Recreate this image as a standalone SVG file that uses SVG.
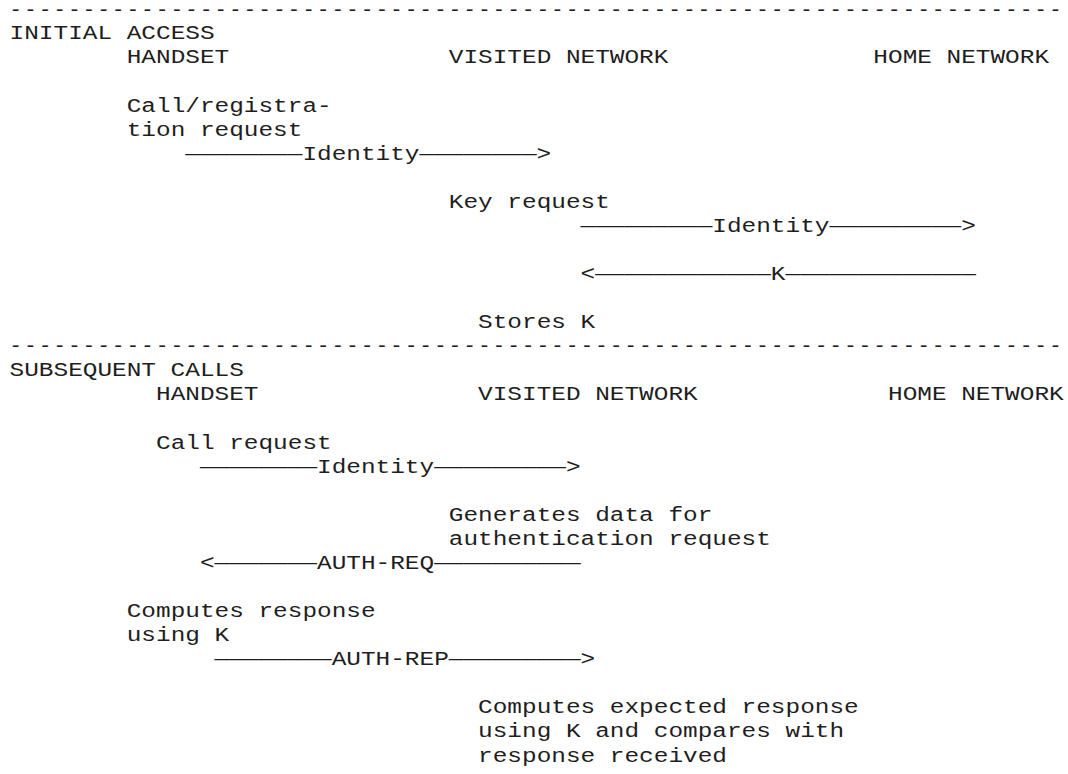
<svg xmlns="http://www.w3.org/2000/svg" width="1068" height="774" viewBox="0 0 1068 774">
<style>
text { font-family: "Liberation Mono", "Courier New", monospace; font-size: 20.5px; fill: #1e1e1e; white-space: pre; }
.rule { letter-spacing: 2.34px; }
</style>
<rect width="1068" height="774" fill="#ffffff"/>
<g id="section-initial-access">
  <text id="rule-1" class="rule" x="9.6" y="15.8">------------------------------------------------------------------------</text>
  <text id="title-initial" x="9.6" y="39.4" textLength="204.96" lengthAdjust="spacingAndGlyphs">INITIAL ACCESS</text>
</g>
<g id="lane-headers-1">
  <text x="126.72" y="63.4" textLength="102.48" lengthAdjust="spacingAndGlyphs">HANDSET</text>
  <text x="448.8" y="63.4" textLength="219.6" lengthAdjust="spacingAndGlyphs">VISITED NETWORK</text>
  <text x="873.36" y="63.4" textLength="175.68" lengthAdjust="spacingAndGlyphs">HOME NETWORK</text>
</g>
<g id="note-call-registration">
  <text x="126.72" y="111.6" textLength="204.96" lengthAdjust="spacingAndGlyphs">Call/registra-</text>
  <text x="126.72" y="135.6" textLength="175.68" lengthAdjust="spacingAndGlyphs">tion request</text>
</g>
<g id="note-key-request">
  <text x="448.8" y="207.9" textLength="161.04" lengthAdjust="spacingAndGlyphs">Key request</text>
</g>
<g id="note-stores-k">
  <text x="478.08" y="328.2" textLength="117.12" lengthAdjust="spacingAndGlyphs">Stores K</text>
</g>
<g id="section-subsequent-calls">
  <text id="rule-2" class="rule" x="9.6" y="352.3">------------------------------------------------------------------------</text>
  <text id="title-subsequent" x="9.6" y="376.4" textLength="234.24" lengthAdjust="spacingAndGlyphs">SUBSEQUENT CALLS</text>
</g>
<g id="lane-headers-2">
  <text x="156.0" y="400.4" textLength="102.48" lengthAdjust="spacingAndGlyphs">HANDSET</text>
  <text x="478.08" y="400.4" textLength="219.6" lengthAdjust="spacingAndGlyphs">VISITED NETWORK</text>
  <text x="888.0" y="400.4" textLength="175.68" lengthAdjust="spacingAndGlyphs">HOME NETWORK</text>
</g>
<g id="note-call-request">
  <text x="156.0" y="448.6" textLength="175.68" lengthAdjust="spacingAndGlyphs">Call request</text>
</g>
<g id="note-generates-data">
  <text x="448.8" y="520.8" textLength="263.52" lengthAdjust="spacingAndGlyphs">Generates data for</text>
  <text x="448.8" y="544.8" textLength="322.08" lengthAdjust="spacingAndGlyphs">authentication request</text>
</g>
<g id="note-computes-response">
  <text x="126.72" y="617.0" textLength="248.88" lengthAdjust="spacingAndGlyphs">Computes response</text>
  <text x="126.72" y="641.1" textLength="102.48" lengthAdjust="spacingAndGlyphs">using K</text>
</g>
<g id="note-computes-expected">
  <text x="478.08" y="713.3" textLength="380.64" lengthAdjust="spacingAndGlyphs">Computes expected response</text>
  <text x="478.08" y="737.4" textLength="366.0" lengthAdjust="spacingAndGlyphs">using K and compares with</text>
  <text x="478.08" y="761.5" textLength="248.88" lengthAdjust="spacingAndGlyphs">response received</text>
</g>
<g id="connectors">
  <g id="msg-identity-1">
    <text x="185.28" y="159.7" textLength="117.12" lengthAdjust="spacingAndGlyphs">————————</text>
    <text x="302.4" y="159.7" textLength="117.12" lengthAdjust="spacingAndGlyphs">Identity</text>
    <text x="419.52" y="159.7" textLength="117.12" lengthAdjust="spacingAndGlyphs">————————</text>
    <text x="536.64" y="159.7" textLength="14.64" lengthAdjust="spacingAndGlyphs">&gt;</text>
  </g>
  <g id="msg-identity-2">
    <text x="580.56" y="231.9" textLength="131.76" lengthAdjust="spacingAndGlyphs">—————————</text>
    <text x="712.32" y="231.9" textLength="117.12" lengthAdjust="spacingAndGlyphs">Identity</text>
    <text x="829.44" y="231.9" textLength="131.76" lengthAdjust="spacingAndGlyphs">—————————</text>
    <text x="961.2" y="231.9" textLength="14.64" lengthAdjust="spacingAndGlyphs">&gt;</text>
  </g>
  <g id="msg-k">
    <text x="580.56" y="280.1" textLength="14.64" lengthAdjust="spacingAndGlyphs">&lt;</text>
    <text x="595.2" y="280.1" textLength="175.68" lengthAdjust="spacingAndGlyphs">————————————</text>
    <text x="770.88" y="280.1" textLength="14.64" lengthAdjust="spacingAndGlyphs">K</text>
    <text x="785.52" y="280.1" textLength="190.32" lengthAdjust="spacingAndGlyphs">—————————————</text>
  </g>
  <g id="msg-identity-3">
    <text x="199.92" y="472.6" textLength="117.12" lengthAdjust="spacingAndGlyphs">————————</text>
    <text x="317.04" y="472.6" textLength="117.12" lengthAdjust="spacingAndGlyphs">Identity</text>
    <text x="434.16" y="472.6" textLength="131.76" lengthAdjust="spacingAndGlyphs">—————————</text>
    <text x="565.92" y="472.6" textLength="14.64" lengthAdjust="spacingAndGlyphs">&gt;</text>
  </g>
  <g id="msg-auth-req">
    <text x="199.92" y="568.9" textLength="14.64" lengthAdjust="spacingAndGlyphs">&lt;</text>
    <text x="214.56" y="568.9" textLength="102.48" lengthAdjust="spacingAndGlyphs">———————</text>
    <text x="317.04" y="568.9" textLength="117.12" lengthAdjust="spacingAndGlyphs">AUTH-REQ</text>
    <text x="434.16" y="568.9" textLength="146.4" lengthAdjust="spacingAndGlyphs">——————————</text>
  </g>
  <g id="msg-auth-rep">
    <text x="214.56" y="665.2" textLength="117.12" lengthAdjust="spacingAndGlyphs">————————</text>
    <text x="331.68" y="665.2" textLength="117.12" lengthAdjust="spacingAndGlyphs">AUTH-REP</text>
    <text x="448.8" y="665.2" textLength="131.76" lengthAdjust="spacingAndGlyphs">—————————</text>
    <text x="580.56" y="665.2" textLength="14.64" lengthAdjust="spacingAndGlyphs">&gt;</text>
  </g>
</g>
</svg>
